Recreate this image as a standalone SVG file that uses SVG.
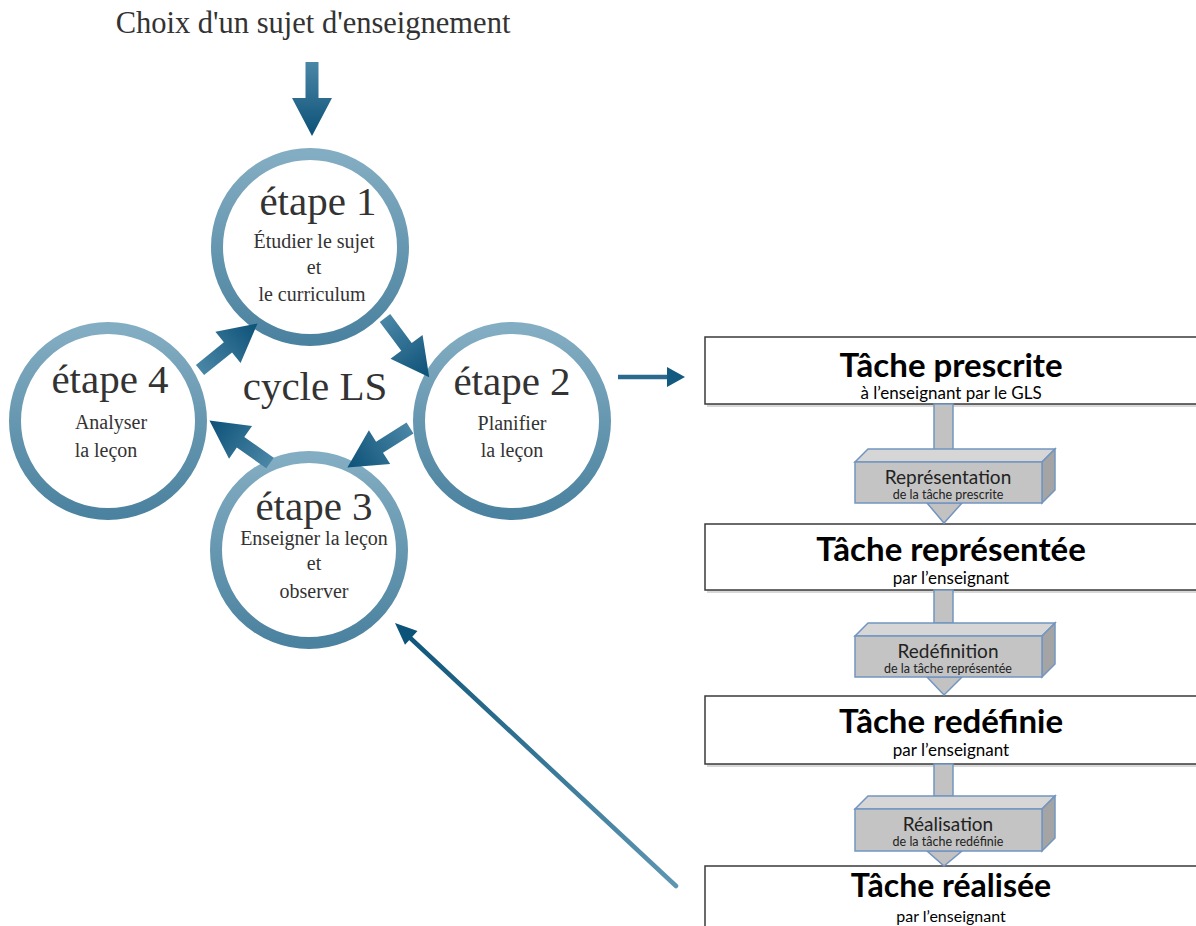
<svg xmlns="http://www.w3.org/2000/svg" width="1196" height="926" viewBox="0 0 1196 926">
<style>
.serif{font-family:"Liberation Serif","DejaVu Serif",serif;fill:#333;text-anchor:middle}
.big{font-size:41px}
.sm{font-size:20px}
.title{font-size:30.5px}
.ring{fill:#fff;stroke:url(#ringGrad);stroke-width:12}
.sans{font-family:Lato,"Liberation Sans",sans-serif;text-anchor:middle;fill:#000}
.bt{font-size:33px;font-weight:bold}
.st{font-size:17px}
.lb{font-size:19px;fill:#222}
.ls{font-size:12.5px;fill:#222}
.box{fill:#fff;stroke:#3a3a3a;stroke-width:1.5}
.shadow{fill:#d8d8d8}
.stem{fill:#c2c2c2;stroke:#7395c0;stroke-width:1.5}
.front{fill:#c4c4c4;stroke:#7395c0;stroke-width:1.5}
.top{fill:#d6d6d6;stroke:#7395c0;stroke-width:1.5}
.side{fill:#a4a4a4;stroke:#7395c0;stroke-width:1.5}
.big-arrow{fill:url(#arrowGrad)}
</style>
<defs>
<linearGradient id="ringGrad" x1="0" y1="0" x2="0" y2="1">
<stop offset="0" stop-color="#83adc2"/>
<stop offset="1" stop-color="#4b829f"/>
</linearGradient>
<linearGradient id="arrowGrad" gradientUnits="userSpaceOnUse" x1="0" y1="0" x2="74" y2="0">
<stop offset="0" stop-color="#4a86a6"/>
<stop offset="1" stop-color="#0c5177"/>
</linearGradient>
<linearGradient id="longGrad" gradientUnits="userSpaceOnUse" x1="676" y1="886" x2="395" y2="623">
<stop offset="0" stop-color="#5e96b2"/>
<stop offset="1" stop-color="#0b5378"/>
</linearGradient>
<path id="bigArrow" d="M0,-6.5 L36,-6.5 L36,-20 L74,0 L36,20 L36,6.5 L0,6.5 Z"/>
</defs>

<text class="serif title" x="313" y="33">Choix d'un sujet d'enseignement</text>

<g id="etape1">
<circle class="ring" cx="310" cy="247" r="93"/>
<text class="serif big" x="318" y="215">étape 1</text>
<text class="serif sm" x="314" y="248">Étudier le sujet</text>
<text class="serif sm" x="314" y="274">et</text>
<text class="serif sm" x="312" y="301">le curriculum</text>
</g>
<g id="etape4">
<circle class="ring" cx="108" cy="421" r="93"/>
<text class="serif big" x="110" y="393">étape 4</text>
<text class="serif sm" x="111" y="429">Analyser</text>
<text class="serif sm" x="106" y="457">la leçon</text>
</g>
<g id="etape2">
<circle class="ring" cx="512" cy="421" r="93"/>
<text class="serif big" x="512" y="395">étape 2</text>
<text class="serif sm" x="512" y="430">Planifier</text>
<text class="serif sm" x="512" y="457">la leçon</text>
</g>
<g id="etape3">
<circle class="ring" cx="309" cy="550" r="93"/>
<text class="serif big" x="314" y="520">étape 3</text>
<text class="serif sm" x="314" y="545">Enseigner la leçon</text>
<text class="serif sm" x="314" y="570">et</text>
<text class="serif sm" x="314" y="598">observer</text>
</g>
<text id="cycle" class="serif big" x="315" y="400">cycle LS</text>

<g id="tache-prescrite">
<rect class="shadow" x="707" y="339" width="492" height="68"/>
<rect class="box" x="705" y="337" width="492" height="67"/>
<text class="sans bt" x="951" y="377">Tâche prescrite</text>
<text class="sans st" x="951" y="399">à l’enseignant par le GLS</text>
</g>
<g id="tache-representee">
<rect class="shadow" x="707" y="526" width="492" height="67"/>
<rect class="box" x="705" y="524" width="492" height="66"/>
<text class="sans bt" x="951" y="561">Tâche représentée</text>
<text class="sans st" x="951" y="584">par l’enseignant</text>
</g>
<g id="tache-redefinie">
<rect class="shadow" x="707" y="698" width="492" height="69"/>
<rect class="box" x="705" y="696" width="492" height="68"/>
<text class="sans bt" x="951" y="733">Tâche redéfinie</text>
<text class="sans st" x="951" y="756">par l’enseignant</text>
</g>
<g id="tache-realisee">
<rect class="box" x="705" y="866" width="492" height="70"/>
<text class="sans bt" x="951" y="897" style="font-size:32px">Tâche réalisée</text>
<text class="sans st" x="951" y="922" style="font-size:16px">par l’enseignant</text>
</g>

<g id="representation">
<rect class="stem" x="934" y="404" width="19" height="46"/>
<polygon class="stem" points="927,503 962,503 944,523"/>
<polygon class="top" points="855,462 868,449 1055,449 1042,462"/>
<polygon class="side" points="1042,462 1055,449 1055,490 1042,503"/>
<rect class="front" x="855" y="462" width="187" height="41"/>
<text class="sans lb" x="948" y="484">Représentation</text>
<text class="sans ls" x="948" y="499">de la tâche prescrite</text>
</g>
<g id="redefinition">
<rect class="stem" x="934" y="590" width="19" height="33"/>
<polygon class="stem" points="927,677 962,677 944,695"/>
<polygon class="top" points="855,636 868,623 1055,623 1042,636"/>
<polygon class="side" points="1042,636 1055,623 1055,664 1042,677"/>
<rect class="front" x="855" y="636" width="187" height="41"/>
<text class="sans lb" x="948" y="658">Redéfinition</text>
<text class="sans ls" x="948" y="673">de la tâche représentée</text>
</g>
<g id="realisation">
<rect class="stem" x="934" y="764" width="19" height="32"/>
<polygon class="stem" points="927,851 962,851 944,866"/>
<polygon class="top" points="855,809 868,796 1055,796 1042,809"/>
<polygon class="side" points="1042,809 1055,796 1055,838 1042,851"/>
<rect class="front" x="855" y="809" width="187" height="42"/>
<text class="sans lb" x="948" y="831">Réalisation</text>
<text class="sans ls" x="948" y="846">de la tâche redéfinie</text>
</g>

<g id="connectors">
<use href="#bigArrow" class="big-arrow" transform="translate(312,62) rotate(90)"/>
<use href="#bigArrow" class="big-arrow" transform="translate(200,370) rotate(-39)"/>
<use href="#bigArrow" class="big-arrow" transform="translate(385,318) rotate(53.3)"/>
<use href="#bigArrow" class="big-arrow" transform="translate(410,428) rotate(147.8)"/>
<use href="#bigArrow" class="big-arrow" transform="translate(270,463) rotate(215.1)"/>
<line x1="618" y1="377" x2="669" y2="377" stroke="#2a6a8e" stroke-width="4.5"/>
<polygon points="667,367 685,377 667,387" fill="#135a80"/>
<line x1="676" y1="886" x2="406" y2="634" stroke="url(#longGrad)" stroke-width="4.5" stroke-linecap="round"/>
<polygon points="395,623 417.5,631 405,644.8" fill="#0b5378"/>
</g>
</svg>
